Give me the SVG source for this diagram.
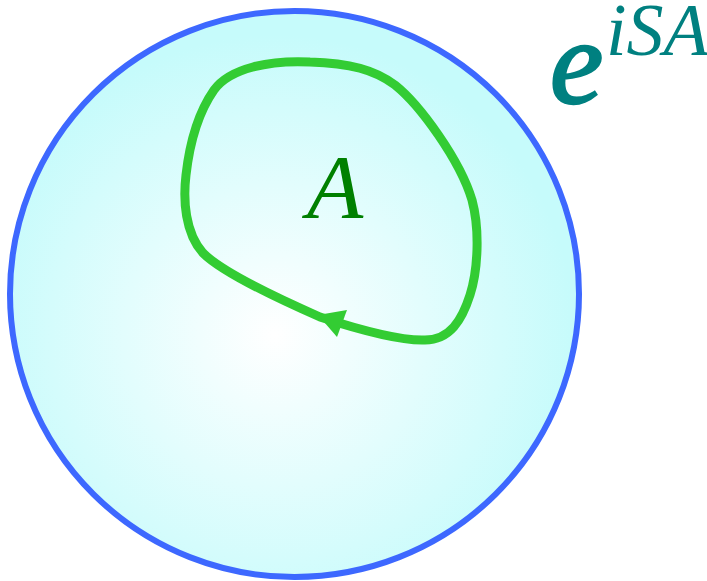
<svg xmlns="http://www.w3.org/2000/svg" width="707" height="581" viewBox="0 0 707 581">
  <style>
    .math { font-family: "Liberation Serif", "Times New Roman", serif; font-style: italic; }
  </style>
  <defs>
    <radialGradient id="bg" cx="275" cy="335" r="300" gradientUnits="userSpaceOnUse">
      <stop offset="0" stop-color="#ffffff"/>
      <stop offset="1" stop-color="#c6fbfb"/>
    </radialGradient>
  </defs>
  <rect width="707" height="581" fill="#ffffff"/>
  <g id="region">
    <ellipse cx="294.5" cy="294" rx="284.5" ry="283" fill="url(#bg)" stroke="#3d68ff" stroke-width="6"/>
  </g>
  <g id="connectors">
    <path d="M 320 317 C 270 295 220 270 203 253 C 185 233 183 200 186 175 C 190 140 200 110 214 90 C 230 68 270 60 310 62 C 350 63 375 70 395 85 C 420 105 460 160 472 200 C 480 230 478 270 470 295 C 462 320 450 340 425 340 C 400 341 360 330 320 317 Z" fill="none" stroke="#33cc33" stroke-width="9" stroke-linejoin="round"/>
    <polygon points="318,315 347,310 337,337" fill="#33cc33"/>
  </g>
  <g id="labelA">
    <text class="math" x="335" y="218" font-size="92" fill="#008000" text-anchor="middle">A</text>
  </g>
  <g id="labelExp">
    <text class="math" x="550" y="103" font-size="120" fill="#008080" stroke="#008080" stroke-width="2.5">e</text>
    <text class="math" x="606" y="55" font-size="74" fill="#008080">iSA</text>
  </g>
</svg>
